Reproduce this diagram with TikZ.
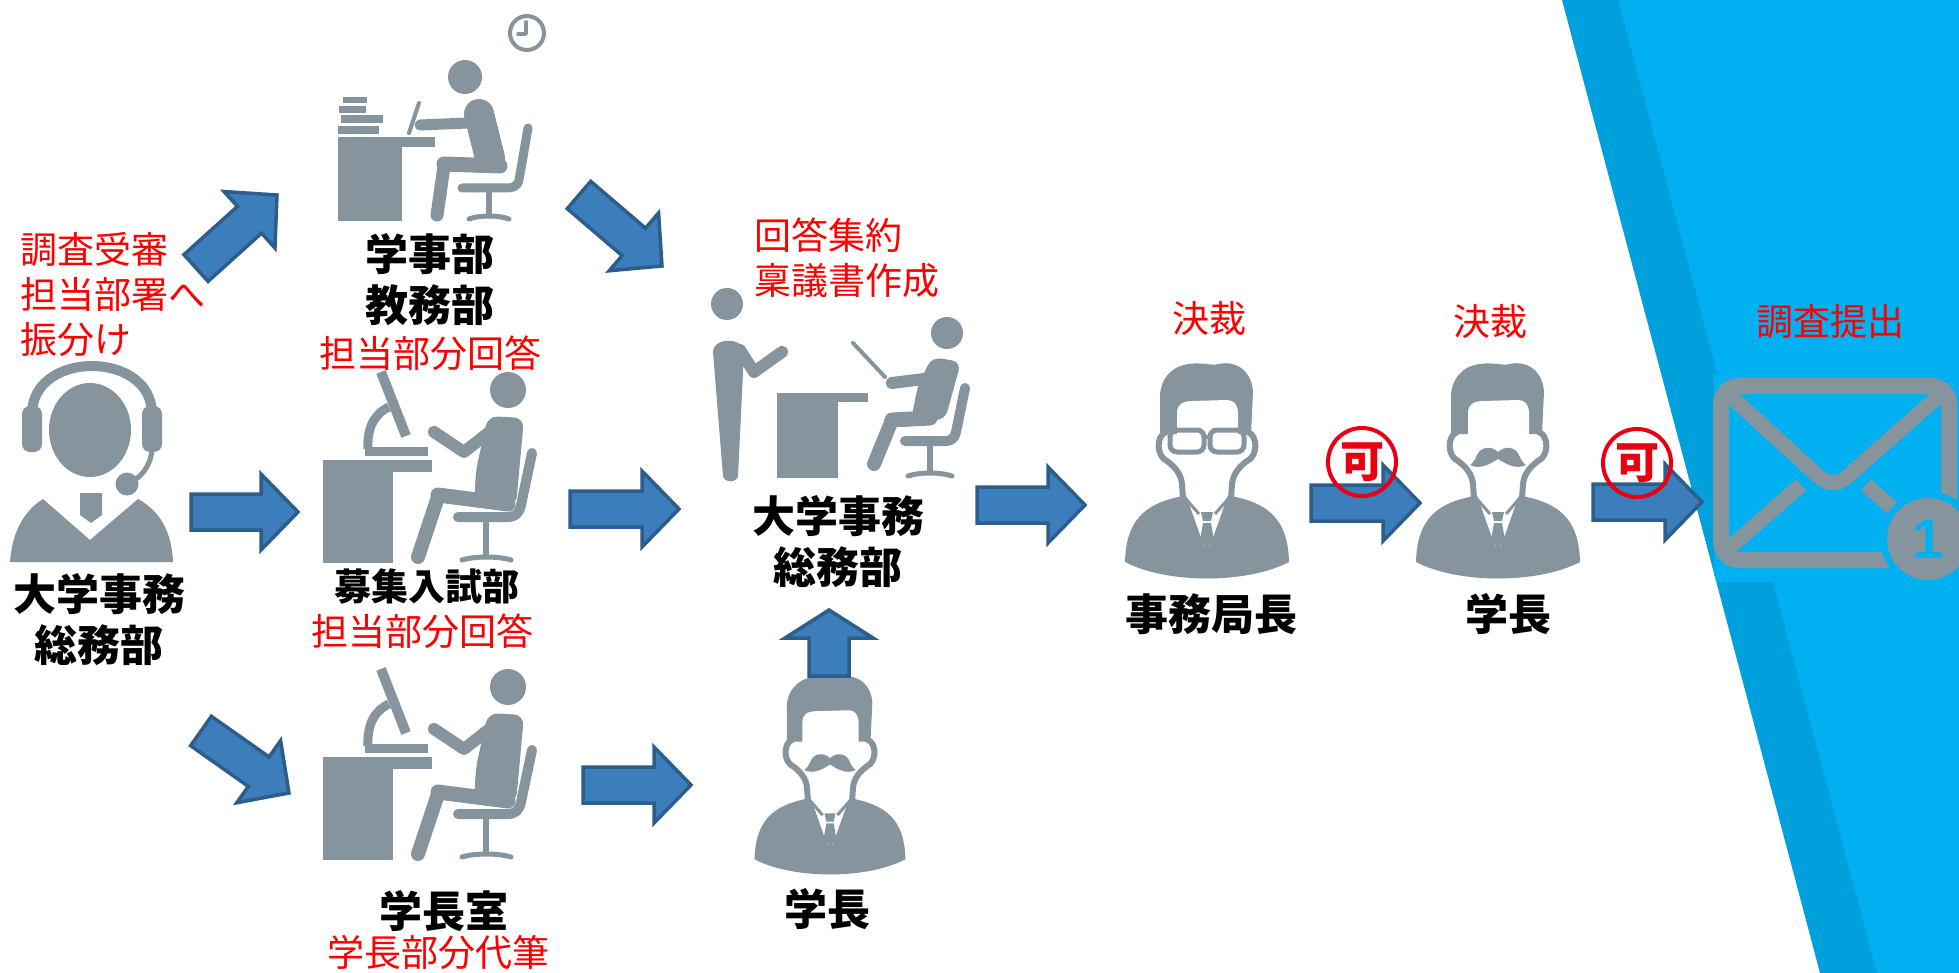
\documentclass[tikz,border=0pt]{standalone}
\usepackage{fontspec}
\newfontfamily\jp{Noto Sans CJK JP}
\newfontfamily\badgefont{Liberation Sans}
\usetikzlibrary{calc}
\definecolor{icongray}{RGB}{134,148,158}
\definecolor{arrowblue}{RGB}{60,126,187}
\definecolor{arrowedge}{RGB}{44,93,139}
\definecolor{banddark}{RGB}{0,160,220}
\definecolor{bandlight}{RGB}{0,176,240}
\definecolor{stampred}{RGB}{230,0,18}

\tikzset{
  lbl/.style={font=\jp\bfseries\fontsize{43}{51}\selectfont, text=black, inner sep=0pt, align=center, anchor=north},
  lblsmall/.style={lbl, font=\jp\bfseries\fontsize{37}{45}\selectfont},
  note/.style={font=\jp\fontsize{37}{45}\selectfont, text=red, inner sep=0pt, anchor=north},
  notel/.style={note, anchor=north west, align=left},
  blockarrow/.style={fill=arrowblue, draw=arrowedge, line width=3.5pt, line join=miter},
  stamp/.style={circle, draw=stampred, line width=4pt, minimum size=68pt, inner sep=0pt,
    text=stampred, font=\jp\bfseries\fontsize{44}{44}\selectfont},
  limb/.style={draw=icongray, line cap=round, line join=round},
}

% block arrow from a tail coordinate to a tip coordinate:
% #3 shaft half width, #4 head half width, #5 head length
\newcommand{\blockarrow}[5]{%
  \filldraw[blockarrow] let \p1=($(#2)-(#1)$), \n1={atan2(\y1,\x1)}, \n2={veclen(\x1,\y1)} in
    [shift={(#1)}, rotate=\n1]
    (0,#3) -- ({\n2-#5},#3) -- ({\n2-#5},#4) -- (\n2,0) -- ({\n2-#5},-#4) -- ({\n2-#5},-#3) -- (0,-#3) -- cycle;}

% office worker at a desk with a monitor on a stand
\newcommand{\deskworker}{%
  \draw[icongray, line width=10pt] (381,372) -- (406,436);
  \draw[icongray, line width=9pt] (389,407) .. controls (374,414) and (367,428) .. (368,449);
  \fill[icongray] (365,447) rectangle (428,456);
  \fill[icongray] (323,460) rectangle (432,472);
  \fill[icongray] (323,472) rectangle (393,563);
  \fill[icongray] (508,390) circle[radius=18];
  \fill[icongray, rounded corners=10pt] (488,416) -- (524,418) -- (516,506) -- (474,506) -- (476,470) -- cycle;
  \draw[limb, line width=12pt] (434,432) -- (464,452) -- (492,430);
  \draw[limb, line width=15pt] (508,504) -- (438,495);
  \draw[limb, line width=14pt] (438,497) -- (418,557);
  \draw[limb, line width=10pt] (532,453) -- (521,505) .. controls (519,514) and (515,517) .. (507,517) -- (458,517);
  \draw[icongray, line width=6pt] (486,520) -- (486,556);
  \draw[limb, line width=5pt] (462,560) .. controls (475,556) and (498,556) .. (511,560);
}

% businessman bust, centred on x = 0
\newcommand{\bustbase}{%
  \fill[icongray] (-47,434) -- (-47,400) .. controls (-48,380) and (-36,366) .. (-18,364)
    .. controls (-5,362) and (5,366) .. (12,364) .. controls (30,360) and (45,372) .. (46,392) -- (44,434) -- cycle;
  \fill[white] (-30,440) -- (-30,413) .. controls (-30,404) and (-24,401) .. (-14,401) -- (20,400)
    .. controls (27,400) and (31,405) .. (31,413) -- (31,440) -- cycle;
  \fill[icongray] (-24,496) .. controls (-60,503) and (-81,518) .. (-82,562)
    .. controls (-40,584) and (40,584) .. (82,562) .. controls (81,518) and (60,503) .. (24,496) -- cycle;
  \fill[white] (-21,495) -- (-3,546) -- (3,546) -- (21,495) -- cycle;
  \draw[limb, line width=6pt] (-41,432) .. controls (-51,436) and (-51,456) .. (-40,461)
    .. controls (-32,467) and (-26,474) .. (-25,484) -- (-24,499);
  \draw[limb, line width=6pt] (41,432) .. controls (51,436) and (51,456) .. (40,461)
    .. controls (32,467) and (26,474) .. (25,484) -- (24,499);
  \draw[icongray, line width=3pt] (-21,499) -- (-8,514) (21,499) -- (8,514);
  \fill[icongray] (-6,512) -- (6,512) -- (4,521) -- (-4,521) -- cycle;
  \fill[icongray] (-4,523) -- (4,523) -- (7,540) -- (0,549) -- (-7,540) -- cycle;
}
\newcommand{\spectacles}{%
  \draw[icongray, line width=5pt, rounded corners=7pt] (-37,430) rectangle (-3,452) (3,430) rectangle (37,452);
  \draw[icongray, line width=4pt] (-3,437) -- (3,437);
}
\newcommand{\mustache}{%
  \fill[icongray] (0,452) .. controls (-6,446) and (-17,446) .. (-21,455) .. controls (-23,460) and (-25,463) .. (-28,465)
    .. controls (-18,470) and (-8,464) .. (0,459) .. controls (8,464) and (18,470) .. (28,465)
    .. controls (25,463) and (23,460) .. (21,455) .. controls (17,446) and (6,446) .. (0,452) -- cycle;
}

\begin{document}
\begin{tikzpicture}[x=1pt, y=-1pt]
\useasboundingbox (0,0) rectangle (1959,973);
\fill[white] (0,0) rectangle (1959,973);

% blue bands on the right
\fill[banddark] (1562,0) -- (1959,0) -- (1959,973) -- (1820,973) -- cycle;
\fill[bandlight] (1618,0) -- (1959,0) -- (1959,973) -- (1877,973) -- cycle;
\begin{scope}
  \clip (1562,0) -- (1959,0) -- (1959,973) -- (1820,973) -- cycle;
  \fill[bandlight] (1714,374) rectangle (1959,582);
\end{scope}

% operator with headset
\draw[icongray, line width=10pt] (32,414) .. controls (32,350) and (152,350) .. (152,414);
\fill[icongray, rounded corners=8pt] (22,406) rectangle (42,452);
\fill[icongray, rounded corners=8pt] (142,406) rectangle (162,452);
\fill[icongray] (90,430) ellipse[x radius=41, y radius=47];
\draw[icongray, line width=5pt] (152,450) .. controls (150,468) and (140,478) .. (128,484);
\fill[icongray] (127,484) circle[radius=11.5];
\fill[icongray] (43,499) -- (90,540) -- (138,499) .. controls (162,512) and (172,535) .. (173,562)
  -- (10,562) .. controls (12,535) and (22,512) .. (43,499) -- cycle;
\fill[icongray] (80,493) -- (102,493) -- (102,515) -- (91,523) -- (80,515) -- cycle;

% worker at a desk with books, and a clock
\draw[icongray, line width=4pt] (527,33) circle[radius=17];
\draw[limb, line width=3.5pt] (526,22) -- (526,34) -- (518,34);
\fill[icongray] (343,97) rectangle (367,103);
\fill[icongray] (339,106) rectangle (366,113);
\fill[icongray] (341,115) rectangle (383,123);
\fill[icongray] (338,126) rectangle (379,134);
\fill[icongray] (338,137) rectangle (435,147);
\fill[icongray] (338,147) rectangle (402,221);
\draw[limb, line width=4pt] (419,103) -- (409,133);
\fill[icongray] (465,77) circle[radius=17];
\draw[limb, line width=30pt] (479,114) -- (490,158);
\draw[limb, line width=11pt] (468,123) -- (420,125);
\draw[limb, line width=15pt] (500,166) -- (444,164);
\draw[limb, line width=13pt] (444,166) -- (437,215);
\draw[limb, line width=9pt] (528,128) -- (519,180) .. controls (517,187) and (513,188) .. (505,188) -- (462,188);
\draw[icongray, line width=6pt] (489,190) -- (489,216);
\draw[limb, line width=5pt] (469,219) .. controls (480,215) and (498,215) .. (509,219);

% two workers at desks with monitors
\deskworker
\begin{scope}[shift={(0,297)}]
  \deskworker
\end{scope}

% standing person reporting to a seated clerk
\fill[icongray] (727,304) circle[radius=16];
\fill[icongray] (713,352) .. controls (713,337) and (744,337) .. (744,352) -- (738,476)
  .. controls (737,483) and (724,483) .. (723,476) -- cycle;
\draw[limb, line width=12pt] (740,350) -- (754,372) -- (782,352);
\fill[icongray] (777,393) rectangle (868,402);
\fill[icongray] (777,402) rectangle (838,478);
\fill[icongray] (947,333) circle[radius=16];
\fill[icongray, rounded corners=9pt] (932,357) -- (961,362) -- (945,420) -- (911,420) -- (918,385) -- cycle;
\draw[limb, line width=12pt] (932,378) -- (892,383);
\draw[limb, line width=4pt] (853,343) -- (885,377);
\draw[limb, line width=15pt] (930,418) -- (892,420);
\draw[limb, line width=14pt] (892,420) -- (874,464);
\draw[limb, line width=10pt] (965,388) -- (956,432) .. controls (954,440) and (950,441) .. (944,441) -- (905,441);
\draw[icongray, line width=6pt] (930,444) -- (930,472);
\draw[limb, line width=5pt] (908,476) .. controls (920,472) and (940,472) .. (952,476);

% busts
\begin{scope}[shift={(1207,0)}]
  \bustbase \spectacles
\end{scope}
\begin{scope}[shift={(1498,0)}]
  \bustbase \mustache
\end{scope}
\begin{scope}[shift={(830,874)}, scale=0.92, shift={(0,-578)}]
  \bustbase \mustache
\end{scope}

% envelope with badge
\draw[icongray, line width=16pt, rounded corners=18pt] (1721,386) rectangle (1949,560);
\draw[icongray, line width=15pt, line join=round] (1727,393) -- (1818,476)
  .. controls (1828,485) and (1838,485) .. (1848,476) -- (1942,393);
\draw[icongray, line width=15pt] (1727,550) -- (1801,485);
\draw[icongray, line width=15pt] (1866,485) -- (1905,519);
\fill[bandlight] (1928,539) circle[radius=48];
\fill[icongray] (1928,539) circle[radius=41];
\node[font=\badgefont\bfseries\fontsize{56}{56}\selectfont, text=bandlight, inner sep=0pt] (badge) at (1928,539) {1};

% arrow end points
\coordinate (a1t) at (196,268);  \coordinate (a1h) at (277,195);
\coordinate (a2t) at (191,512);  \coordinate (a2h) at (298,512);
\coordinate (a3t) at (201,731);  \coordinate (a3h) at (289,793);
\coordinate (a4t) at (579,195);  \coordinate (a4h) at (662,266);
\coordinate (a5t) at (570,509);  \coordinate (a5h) at (679,509);
\coordinate (a6t) at (583,785);  \coordinate (a6h) at (691,785);
\coordinate (a7t) at (829,676);  \coordinate (a7h) at (829,610);
\coordinate (a8t) at (977,505);  \coordinate (a8h) at (1085,505);
\coordinate (a9t) at (1311,503); \coordinate (a9h) at (1420,503);
\coordinate (a10t) at (1593,502); \coordinate (a10h) at (1702,502);

\blockarrow{a1t}{a1h}{18}{38}{37}
\blockarrow{a2t}{a2h}{18}{38}{37}
\blockarrow{a3t}{a3h}{18}{38}{37}
\blockarrow{a4t}{a4h}{18}{38}{37}
\blockarrow{a5t}{a5h}{18}{38}{37}
\blockarrow{a6t}{a6h}{18}{38}{37}
\blockarrow{a7t}{a7h}{20}{44}{28}
\blockarrow{a8t}{a8h}{18}{38}{37}
\blockarrow{a9t}{a9h}{18}{38}{37}
\blockarrow{a10t}{a10h}{18}{38}{37}

% approval stamps
\node[stamp] (ok1) at (1362,462) {可};
\node[stamp] (ok2) at (1637,463) {可};

% labels
\node[notel] (opnote) at (20,232) {調査受審\\担当部署へ\\振分け};
\node[lbl] (opname) at (99,573) {大学事務\\総務部};
\node[lbl] (gakuji) at (430,233) {学事部\\教務部};
\node[note] (gakujinote) at (430,336) {担当部分回答};
\node[lblsmall] (boshu) at (427,569) {募集入試部};
\node[note] (boshunote) at (422,614) {担当部分回答};
\node[lbl] (office) at (444,890) {学長室};
\node[note] (officenote) at (438,935) {学長部分代筆};
\node[notel] (centernote) at (754,218) {回答集約\\稟議書作成};
\node[lbl] (centername) at (838,495) {大学事務\\総務部};
\node[lbl] (pres1) at (827,888) {学長};
\node[note] (dec1) at (1209,301) {決裁};
\node[lbl] (director) at (1211,593) {事務局長};
\node[note] (dec2) at (1490,304) {決裁};
\node[lbl] (pres2) at (1508,593) {学長};
\node[note] (submit) at (1830,304) {調査提出};
\end{tikzpicture}
\end{document}
